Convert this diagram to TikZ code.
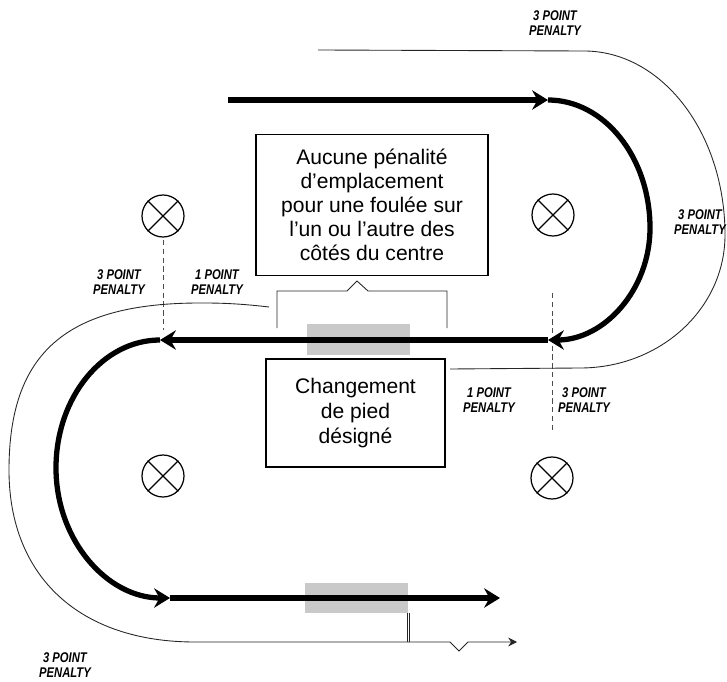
\documentclass[tikz,border=0pt]{standalone}
\usepackage{fontspec}
\setmainfont{Liberation Sans}
\newfontfamily\penfont[FakeStretch=0.8]{Liberation Sans}
\usetikzlibrary{arrows.meta}

\tikzset{
  trackline/.style={line width=3pt, -{Stealth[length=9pt,width=11pt,inset=3pt]}},
  penline/.style={line width=0.5pt, black!85},
  pentext/.style={font=\penfont\bfseries\itshape\fontsize{8}{8.8}\selectfont, align=center, inner sep=0pt},
  infobox/.style={rectangle, draw, line width=1.1pt, align=center},
  marker/.style={circle, draw, line width=0.7pt, minimum size=0.84cm, inner sep=0pt},
  midline/.style={line width=0.5pt, dash pattern=on 3pt off 2pt, black!70},
  changezone/.style={fill=black!21, draw=none}
}

\begin{document}
\begin{tikzpicture}[x=0.02cm, y=-0.02cm]
		\useasboundingbox (0,0) rectangle (727,682);
		% grey change zones
		\fill[changezone] (307,324) rectangle (410,355);
		\fill[changezone] (305,583) rectangle (408,613);
		% markers
		\node at (163,216) [marker] (mk1) {};
		\node at (553,215) [marker] (mk2) {};
		\node at (163,476) [marker] (mk3) {};
		\node at (552,478) [marker] (mk4) {};
		\foreach \m in {mk1,mk2,mk3,mk4}
			\draw[line width=0.7pt] (\m.north west) -- (\m.south east) (\m.north east) -- (\m.south west);
		% centre lines
		\coordinate (d1) at (163,240);
		\coordinate (d2) at (163,330);
		\coordinate (d3) at (552,293);
		\coordinate (d4) at (552,430);
		\draw[midline] (d1) -- (d2);
		\draw[midline] (d3) -- (d4);
		% track
		\coordinate (t1) at (228,100);
		\coordinate (t2) at (548,100);
		\coordinate (t3) at (548,340);
		\coordinate (t4) at (160,340);
		\coordinate (t5) at (170,598);
		\coordinate (t6) at (500,598);
		\draw[trackline] (t1) -- (t2);
		\draw[trackline] (t2) .. controls (604,100) and (650,157) .. (650,228) .. controls (650,290) and (604,340) .. (t3);
		\draw[trackline] (t3) -- (t4);
		\draw[trackline] (t4) .. controls (103,340) and (56,397) .. (56,468) .. controls (56,540) and (107,598) .. (t5);
		\draw[trackline] (t5) -- (t6);
		% outer lines
		\draw[penline] (318,50) -- (584,51) .. controls (662,51) and (725,133) .. (725,235) .. controls (725,308) and (661,368) .. (580,368) -- (450,369);
		\draw[penline] (269,307) .. controls (235,303) and (215,303) .. (200,303) .. controls (66,303) and (9,353) .. (9,470) .. controls (9,577) and (80,642) .. (195,642) -- (408,642);
		\draw[penline, -{Stealth[length=5pt,width=5pt]}] (408,642) -- (450,642) -- (459,651) -- (468,642) -- (517,642);
		\draw[penline] (407,613) -- (407,642);
		\draw[penline] (409.5,613) -- (409.5,642);
		% boxes
		\node at (372,205) [infobox, minimum width=4.64cm, minimum height=2.82cm, font=\fontsize{12}{13.6}\selectfont] (nopen) {Aucune pénalité\\d’emplacement\\pour une foulée sur\\l’un ou l’autre des\\côtés du centre};
		\node at (355.5,413) [infobox, minimum width=3.58cm, minimum height=2.16cm, font=\fontsize{12}{14}\selectfont] (chg) {Changement\\de pied\\désigné};
		\draw[penline] (277,328) -- (277,291) -- (347,291) -- (357,281) -- (368,291) -- (447,291) -- (447,328);
		% penalty labels
		\node at (555,23) [pentext] (p1) {3 POINT\\PENALTY};
		\node at (700,222) [pentext] (p2) {3 POINT\\PENALTY};
		\node at (119,282) [pentext] (p3) {3 POINT\\PENALTY};
		\node at (217,282) [pentext] (p4) {1 POINT\\PENALTY};
		\node at (489,400) [pentext] (p5) {1 POINT\\PENALTY};
		\node at (584,400) [pentext] (p6) {3 POINT\\PENALTY};
		\node at (65,665) [pentext] (p7) {3 POINT\\PENALTY};
\end{tikzpicture}
\end{document}
